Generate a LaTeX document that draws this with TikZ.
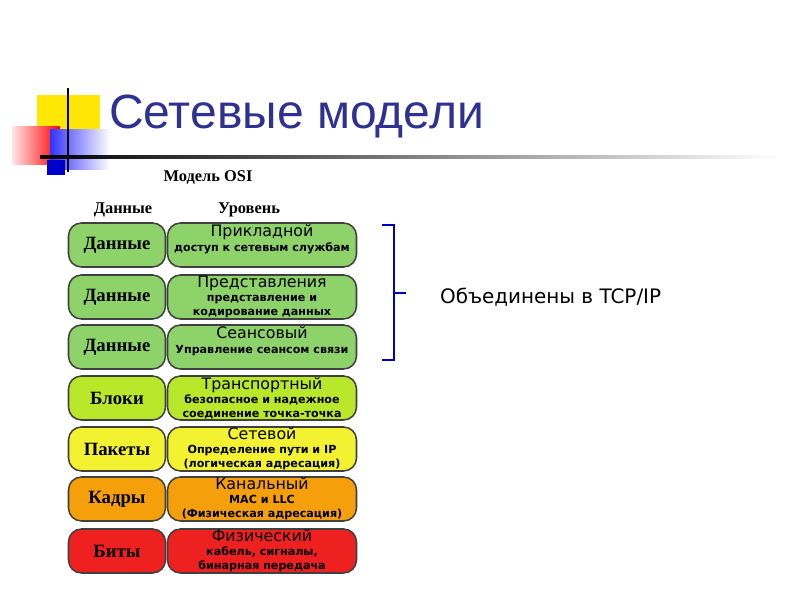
\documentclass[tikz,border=0pt]{standalone}
\usepackage{fontspec}
\setmainfont{Liberation Serif}
\newfontfamily\dejavu{DejaVu Sans}
\newfontfamily\arial{Liberation Sans}
\definecolor{navy}{HTML}{2E3192}
\definecolor{lgreen}{HTML}{8ED26A}
\definecolor{ygreen}{HTML}{B9E82A}
\definecolor{lyellow}{HTML}{F2F230}
\definecolor{lorange}{HTML}{F5A00A}
\definecolor{lred}{HTML}{EE2020}
\tikzset{
    databox/.style={draw=black!75, line width=1.3pt, rounded corners=11pt,
        minimum width=97*0.03cm, minimum height=44*0.03cm,
        font=\bfseries\fontsize{16}{18}\selectfont},
    layerbox/.style={draw=black!75, line width=1.3pt, rounded corners=11pt,
        minimum width=189*0.03cm, minimum height=44*0.03cm, inner sep=0pt,
        align=center, font=\dejavu\fontsize{13.5}{14}\selectfont}
}
\begin{document}
\begin{tikzpicture}[x=0.03cm, y=-0.03cm]
    \useasboundingbox (0,0) rectangle (800,600);
    % corner decoration
    \fill [yellow!90!orange] (37,95) rectangle (100,145);
    \shade [left color=red!10, right color=red] (12,127) rectangle (60,165);
    \shade [left color=blue!80, right color=white] (50,130) rectangle (110,170);
    \fill [blue!80!black] (47,160) rectangle (65,175);
    \draw [line width=1.5pt] (68,88) -- (68,172);
    \shade [left color=black, right color=white] (40,156) rectangle (780,158.5);
    \node (title) [anchor=west, text=navy, font=\arial\fontsize{41}{44}\selectfont]
        at (105,117) {Сетевые модели};
    % headings
    \node (osi) [font=\bfseries\fontsize{14}{16}\selectfont] at (208,177) {Модель OSI};
    \node (hdata) [font=\bfseries\fontsize{14}{16}\selectfont] at (123,210) {Данные};
    \node (hlevel) [font=\bfseries\fontsize{14}{16}\selectfont] at (249,210) {Уровень};
    % layers
    \foreach \yy/\col/\dat/\ttl/\sba/\sbb [count=\i] in {
        245/lgreen/Данные/Прикладной/{доступ к сетевым службам}/{},
        297/lgreen/Данные/Представления/{представление и}/{кодирование данных},
        347/lgreen/Данные/Сеансовый/{Управление сеансом связи}/{},
        398/ygreen/Блоки/Транспортный/{безопасное и надежное}/{соединение точка-точка},
        449/lyellow/Пакеты/Сетевой/{Определение пути и IP}/{(логическая адресация)},
        499/lorange/Кадры/Канальный/{MAC и LLC}/{(Физическая адресация)},
        551/lred/Биты/Физический/{кабель, сигналы,}/{бинарная передача}} {
        \node (d\i) [databox, fill=\col] at (117,\yy) {\dat};
        \node (l\i) [layerbox, fill=\col] at (262,\yy)
            {\ttl\\[-2pt]{\dejavu\bfseries\fontsize{9.5}{11}\selectfont\sba}\\[-2pt]
             {\dejavu\bfseries\fontsize{9.5}{11}\selectfont\sbb}};
    }
    % bracket
    \coordinate (btop) at (382,225);
    \coordinate (bbot) at (382,360);
    \coordinate (btip) at (406,293);
    \draw [blue!75!black, line width=2.2pt]
        (btop) -- (394,225) -- (394,360) -- (bbot)
        (394,293) -- (btip);
    \node (tcp) [anchor=west, font=\dejavu\fontsize{17}{20}\selectfont] at (436,297)
        {Объединены в TCP/IP};
\end{tikzpicture}
\end{document}
